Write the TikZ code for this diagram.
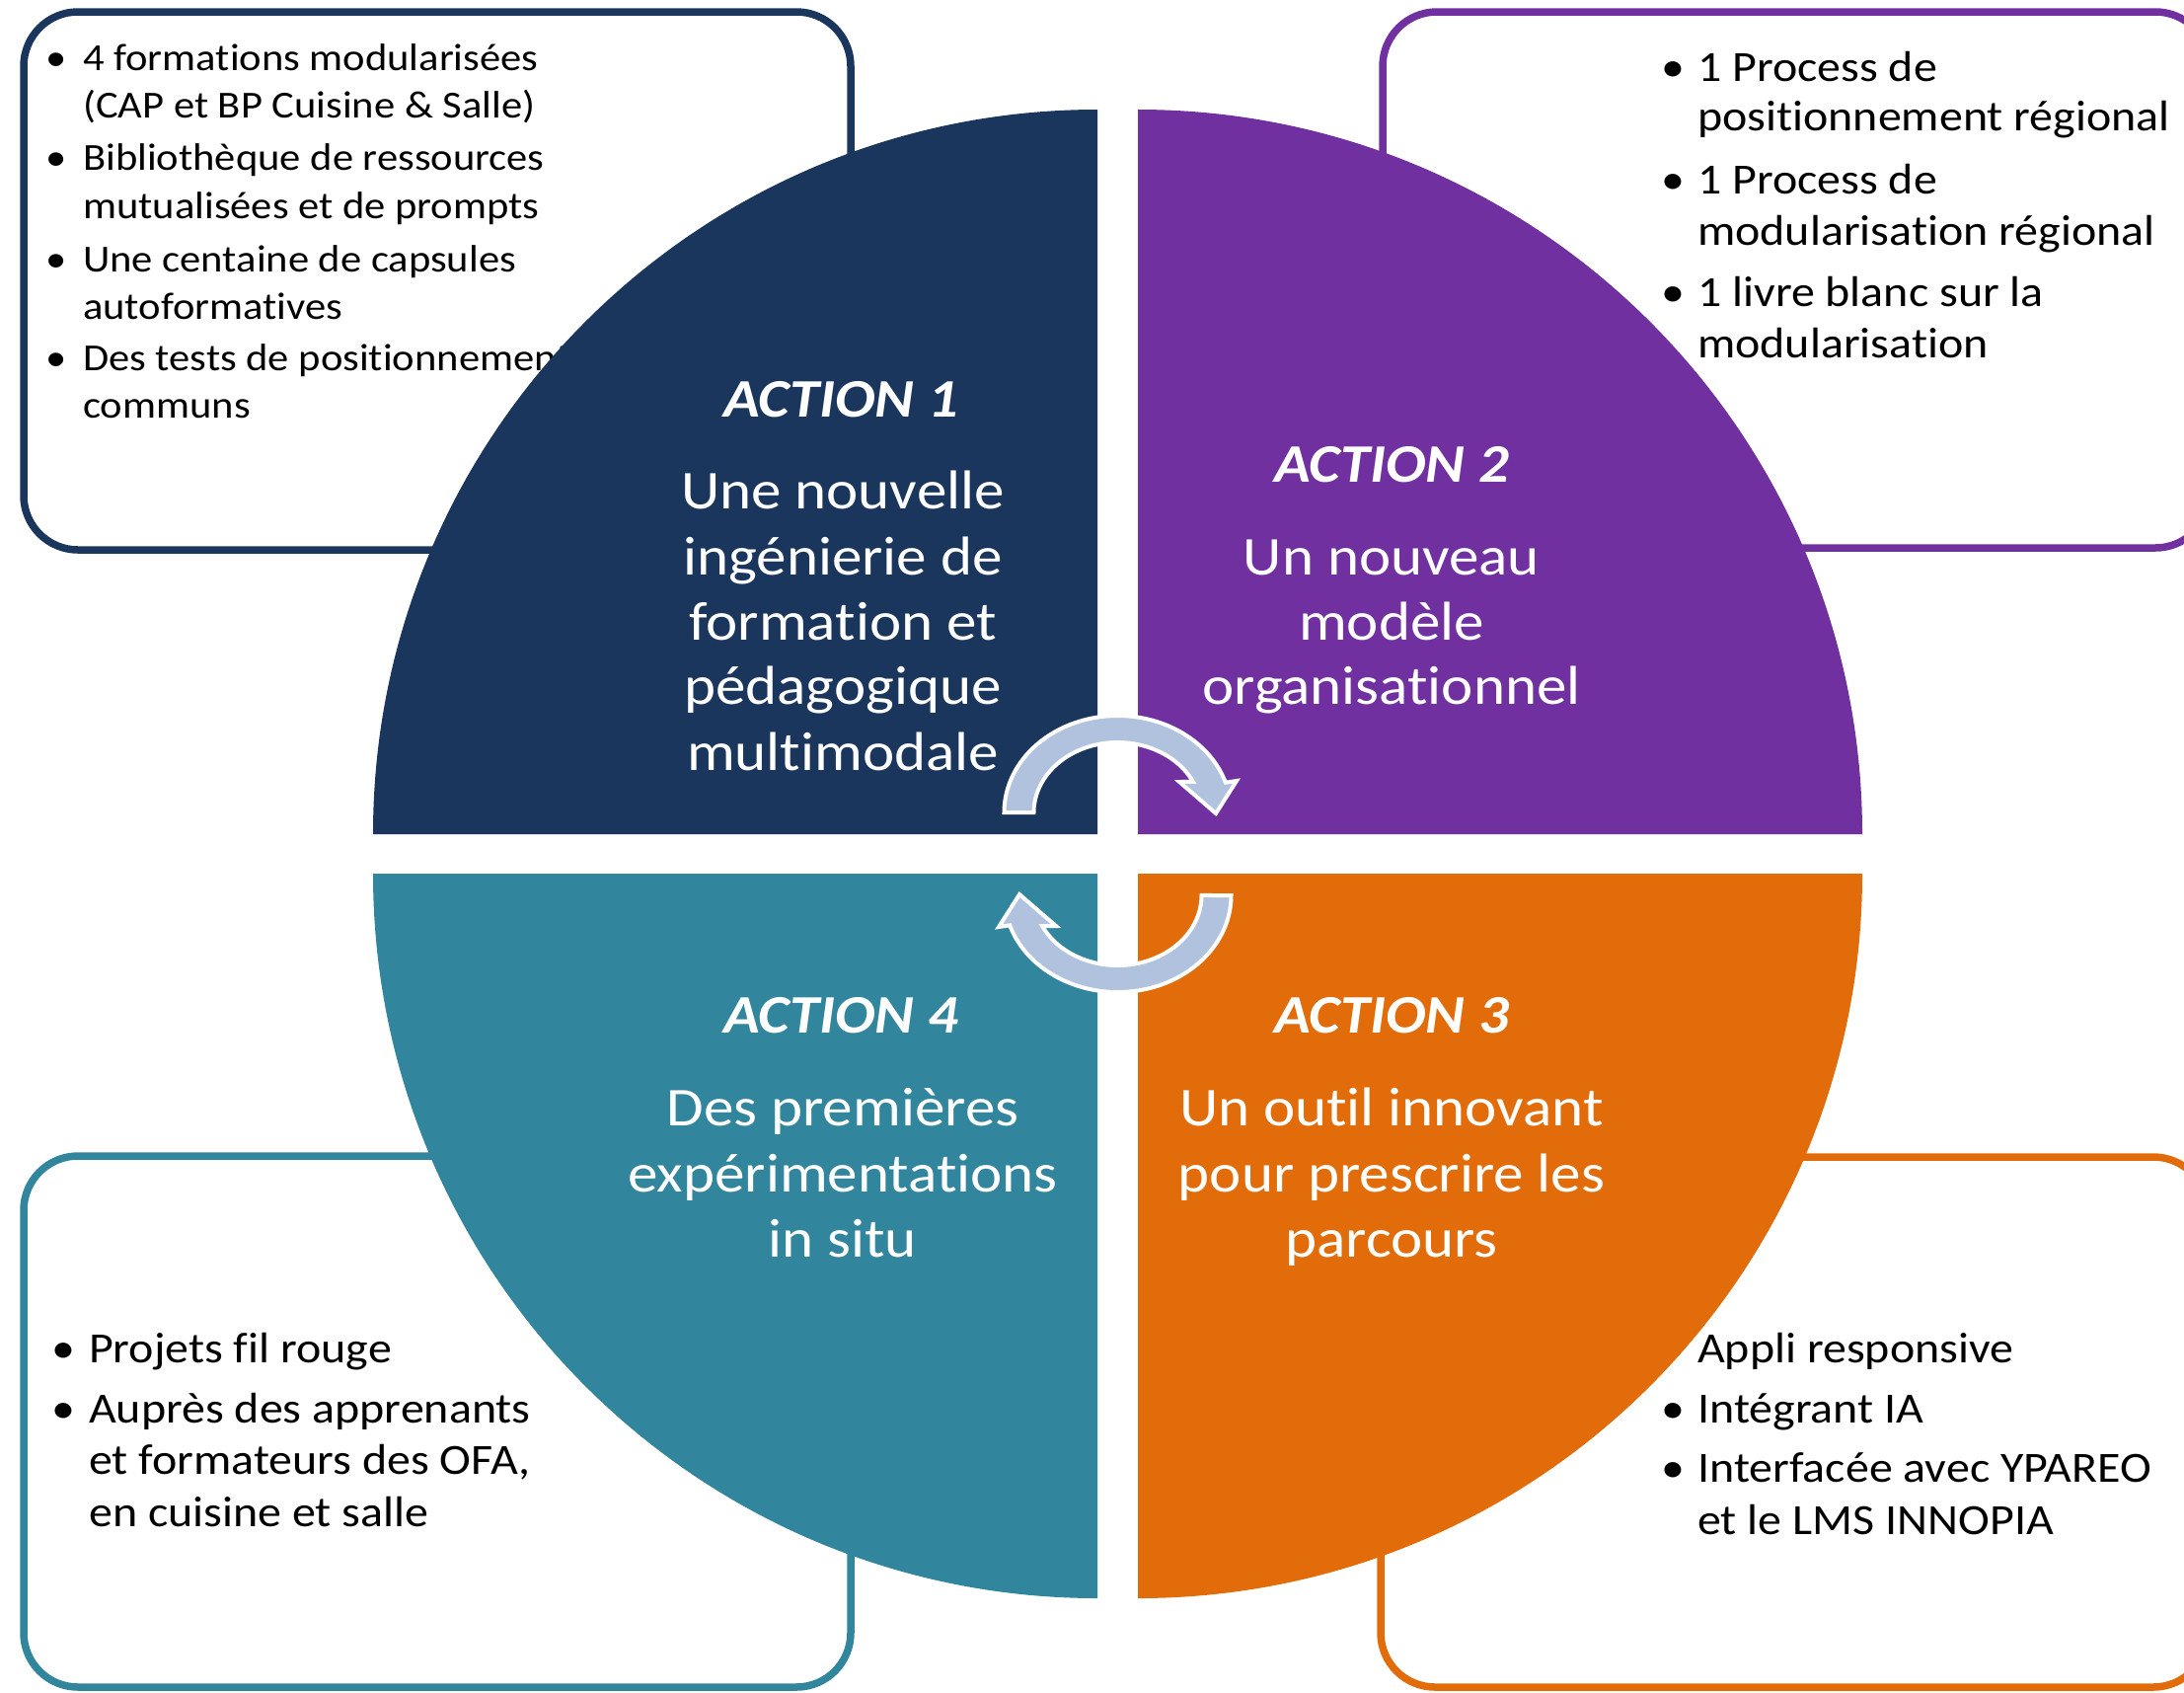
\documentclass[tikz,border=0pt]{standalone}
\usepackage{fontspec}
\setmainfont{Carlito}[FakeStretch=1.1, RawFeature=-liga]
\definecolor{navy}{RGB}{27,54,93}
\definecolor{purp}{RGB}{112,48,160}
\definecolor{orng}{RGB}{227,108,10}
\definecolor{teal}{RGB}{49,133,156}
\definecolor{arrowblue}{RGB}{176,194,222}
\tikzset{
  box/.style={line width=7.5pt, rounded corners=55pt, fill=white},
  small/.style={inner sep=0pt, font=\fontsize{38.7}{46}\selectfont, text=black},
  mid/.style={inner sep=0pt, font=\fontsize{43.6}{52}\selectfont, text=black},
  head/.style={inner sep=0pt, text=white, font=\fontsize{55}{66}\selectfont\bfseries\itshape},
  body/.style={inner sep=0pt, text=white, font=\fontsize{55.5}{66}\selectfont},
  cyc/.style={fill=arrowblue, draw=white, line width=4pt, line join=miter},
}
\begin{document}
\begin{tikzpicture}[x=1pt,y=-1pt]
\useasboundingbox (0,0) rectangle (2213,1714);
\clip (0,0) rectangle (2213,1714);
% ---------- boxes ----------
\draw[box, draw=navy] (24,12) rectangle (862,557);
\draw[box, draw=purp] (1401,12) rectangle (2239,555);
\draw[box, draw=teal] (24,1171) rectangle (862,1709);
\draw[box, draw=orng] (1399,1172) rectangle (2237,1709);
% ---------- TL list ----------
\node[small, anchor=base] (tlb1) at (57,71) {•};
\node[small, anchor=base west] (tl1) at (84,71) {4 formations modularisées};
\node[small, anchor=base west] (tl2) at (84,119) {(CAP et BP Cuisine \& Salle)};
\node[small, anchor=base] (tlb2) at (57,172) {•};
\node[small, anchor=base west] (tl3) at (84,172) {Bibliothèque de ressources};
\node[small, anchor=base west] (tl4) at (84,221) {mutualisées et de prompts};
\node[small, anchor=base] (tlb3) at (57,275) {•};
\node[small, anchor=base west] (tl5) at (84,275) {Une centaine de capsules};
\node[small, anchor=base west] (tl6) at (84,323) {autoformatives};
\node[small, anchor=base] (tlb4) at (57,375) {•};
\node[small, anchor=base west] (tl7) at (84,375) {Des tests de positionnement};
\node[small, anchor=base west] (tl8) at (84,423) {communs};
% ---------- TR list ----------
\node[mid, anchor=base] (trb1) at (1695,82) {•};
\node[mid, anchor=base west] (tr1) at (1720,82) {1 Process de};
\node[mid, anchor=base west] (tr2) at (1720,132) {positionnement régional};
\node[mid, anchor=base] (trb2) at (1695,196) {•};
\node[mid, anchor=base west] (tr3) at (1720,196) {1 Process de};
\node[mid, anchor=base west] (tr4) at (1720,248) {modularisation régional};
\node[mid, anchor=base] (trb3) at (1695,310) {•};
\node[mid, anchor=base west] (tr5) at (1720,310) {1 livre blanc sur la};
\node[mid, anchor=base west] (tr6) at (1720,362) {modularisation};
% ---------- BL list ----------
\node[mid, anchor=base] (blb1) at (64,1380) {•};
\node[mid, anchor=base west] (bl1) at (90,1380) {Projets fil rouge};
\node[mid, anchor=base] (blb2) at (64,1441) {•};
\node[mid, anchor=base west] (bl2) at (90,1441) {Auprès des apprenants};
\node[mid, anchor=base west] (bl3) at (90,1493) {et formateurs des OFA,};
\node[mid, anchor=base west] (bl4) at (90,1546) {en cuisine et salle};
% ---------- BR list ----------
\node[mid, anchor=base] (brb1) at (1695,1380) {•};
\node[mid, anchor=base west] (br1) at (1720,1380) {Appli responsive};
\node[mid, anchor=base] (brb2) at (1695,1441) {•};
\node[mid, anchor=base west] (br2) at (1720,1441) {Intégrant IA};
\node[mid, anchor=base] (brb3) at (1695,1501) {•};
\node[mid, anchor=base west] (br3) at (1720,1501) {Interfacée avec YPAREO};
\node[mid, anchor=base west] (br4) at (1720,1554) {et le LMS INNOPIA};
% ---------- quadrants ----------
\fill[navy] (1112,845) -- (378,845) arc[start angle=180, end angle=270, radius=734] -- cycle;
\fill[purp] (1153,845) -- (1153,111) arc[start angle=270, end angle=360, radius=734] -- cycle;
\fill[orng] (1153,885) -- (1887,885) arc[start angle=0, end angle=90, radius=734] -- cycle;
\fill[teal] (1112,885) -- (1112,1619) arc[start angle=90, end angle=180, radius=734] -- cycle;
% ---------- central texts ----------
\node[head, anchor=base] (a1) at (852,422) {ACTION 1};
\node[body, anchor=base] (a1l1) at (854,515) {Une nouvelle};
\node[body, anchor=base] (a1l2) at (854,582) {ingénierie de};
\node[body, anchor=base] (a1l3) at (854,648) {formation et};
\node[body, anchor=base] (a1l4) at (854,713) {pédagogique};
\node[body, anchor=base] (a1l5) at (854,780) {multimodale};
\node[head, anchor=base] (a2) at (1410,488) {ACTION 2};
\node[body, anchor=base] (a2l1) at (1410,582) {Un nouveau};
\node[body, anchor=base] (a2l2) at (1410,648) {modèle};
\node[body, anchor=base] (a2l3) at (1410,713) {organisationnel};
\node[head, anchor=base] (a4) at (852,1046) {ACTION 4};
\node[body, anchor=base] (a4l1) at (854,1140) {Des premières};
\node[body, anchor=base] (a4l2) at (854,1207) {expérimentations};
\node[body, anchor=base] (a4l3) at (854,1273) {in situ};
\node[head, anchor=base] (a3) at (1410,1046) {ACTION 3};
\node[body, anchor=base] (a3l1) at (1410,1140) {Un outil innovant};
\node[body, anchor=base] (a3l2) at (1410,1207) {pour prescrire les};
\node[body, anchor=base] (a3l3) at (1410,1273) {parcours};
% ---------- cycle arrows ----------
\path[cyc] (1017.5,823) arc[start angle=180, end angle=342, x radius=115, y radius=98]
  -- (1253,791) -- (1232,824) -- (1195,792) -- (1208.9,791.9)
  arc[start angle=334, end angle=180, x radius=85, y radius=71] -- cycle;
\begin{scope}[rotate around={180:(1132.5,865)}]
\path[cyc] (1017.5,823) arc[start angle=180, end angle=342, x radius=115, y radius=98]
  -- (1253,791) -- (1232,824) -- (1195,792) -- (1208.9,791.9)
  arc[start angle=334, end angle=180, x radius=85, y radius=71] -- cycle;
\end{scope}
\end{tikzpicture}
\end{document}
